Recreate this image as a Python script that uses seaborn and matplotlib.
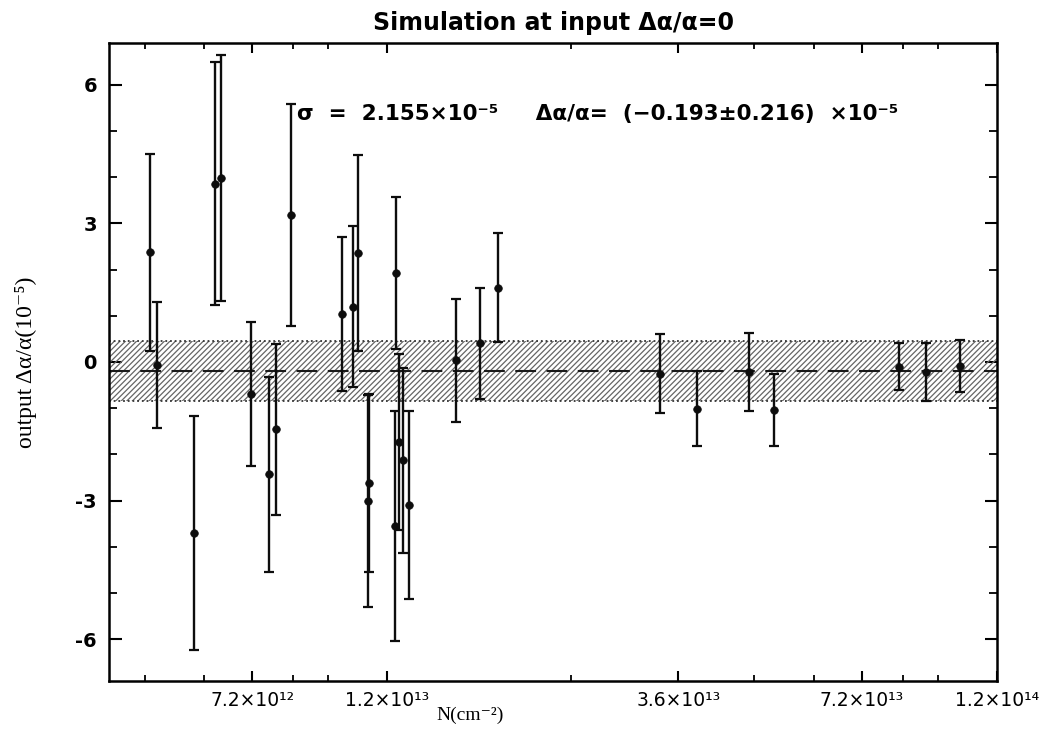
import numpy as np
import pandas as pd
import matplotlib
matplotlib.use("Agg")
import matplotlib.pyplot as plt
from matplotlib.ticker import FixedLocator, FixedFormatter, NullFormatter
import seaborn as sns

# ---------------- data ----------------
column_density = [4.89e12, 5.02e12, 5.79e12, 6.26e12, 6.41e12, 7.16e12, 7.67e12, 7.88e12,
                  8.33e12, 1.011e13, 1.055e13, 1.074e13, 1.117e13, 1.120e13, 1.236e13,
                  1.239e13, 1.256e13, 1.273e13, 1.303e13, 1.553e13, 1.70e13, 1.82e13,
                  3.36e13, 3.86e13, 4.71e13, 5.16e13, 8.28e13, 9.17e13, 1.045e14]
output_da = [2.37, -0.07, -3.70, 3.86, 3.97, -0.69, -2.43, -1.46,
             3.18, 1.04, 1.20, 2.35, -3.01, -2.62, -3.55,
             1.92, -1.73, -2.13, -3.09, 0.04, 0.40, 1.61,
             -0.25, -1.01, -0.22, -1.03, -0.10, -0.22, -0.08]
output_err = [2.13, 1.36, 2.53, 2.62, 2.66, 1.55, 2.11, 1.84,
              2.40, 1.67, 1.74, 2.12, 2.30, 1.92, 2.48,
              1.64, 1.91, 2.01, 2.04, 1.33, 1.19, 1.17,
              0.85, 0.81, 0.84, 0.78, 0.51, 0.62, 0.56]

mean_value = -0.193
band_low, band_high = -0.84, 0.455

x_major_ticks = [7.2e12, 1.2e13, 3.6e13, 7.2e13, 1.2e14]
x_major_labels = ["7.2×10¹²", "1.2×10¹³", "3.6×10¹³", "7.2×10¹³", "1.2×10¹⁴"]
x_minor_ticks = [4.8e12, 6.0e12, 8.4e12, 9.6e12, 2.4e13, 4.8e13, 6.0e13, 8.4e13, 9.6e13]
y_major_ticks = [-6, -3, 0, 3, 6]
y_major_labels = ["-6", "-3", "0", "3", "6"]
y_minor_ticks = [-5, -4, -2, -1, 1, 2, 4, 5]

title_text = "Simulation at input Δα/α=0"
annot_text = "σ  =  2.155×10⁻⁵     Δα/α=  (−0.193±0.216)  ×10⁻⁵"
xlabel_text = "N(cm⁻²)"
ylabel_text = "output Δα/α(10⁻⁵)"

df = pd.DataFrame({"N": column_density, "da": output_da, "err": output_err})

# ---------------- style ----------------
sns.set_theme(style="ticks")
plt.rcParams["font.family"] = ["DejaVu Sans"]
plt.rcParams["hatch.linewidth"] = 0.9
plt.rcParams["axes.linewidth"] = 1.8
for key in ("text.color", "axes.labelcolor", "xtick.color", "ytick.color", "axes.edgecolor"):
    plt.rcParams[key] = "black"

fig = plt.figure(figsize=(10.6, 7.35), dpi=100)
ax = fig.add_axes([0.1032, 0.0735, 0.8374, 0.868])
ax.set_xscale("log")
ax.set_xlim(4.2e12, 1.2e14)
ax.set_ylim(-6.9, 6.9)

# shaded band
ax.axhspan(band_low, band_high, facecolor="none", edgecolor="0.4",
           hatch="//////", linewidth=0, zorder=1)
for yb in (band_low, band_high):
    ax.axhline(yb, color="0.2", lw=1.3, ls=(0, (1, 1.6)), zorder=2)
ax.axhline(mean_value, color="0.1", lw=1.5, ls=(0, (10, 5)), zorder=2)

# error bars and points
ax.errorbar(df["N"], df["da"], yerr=df["err"], fmt="none", ecolor="0.05",
            elinewidth=1.7, capsize=3.8, capthick=1.6, zorder=3)
sns.scatterplot(data=df, x="N", y="da", marker="o", s=30, color="0.05",
                edgecolor="0.05", linewidth=0.5, ax=ax, zorder=4, legend=False)

# ticks
ax.xaxis.set_major_locator(FixedLocator(x_major_ticks))
ax.xaxis.set_major_formatter(FixedFormatter(x_major_labels))
ax.xaxis.set_minor_locator(FixedLocator(x_minor_ticks))
ax.xaxis.set_minor_formatter(NullFormatter())
ax.yaxis.set_major_locator(FixedLocator(y_major_ticks))
ax.yaxis.set_major_formatter(FixedFormatter(y_major_labels))
ax.yaxis.set_minor_locator(FixedLocator(y_minor_ticks))
ax.tick_params(which="both", direction="in", top=True, right=True, color="black")
ax.tick_params(axis="x", which="major", length=7.5, width=1.5, pad=7, labelsize=13.5)
ax.tick_params(axis="x", which="minor", length=4, width=1.3)
ax.tick_params(axis="y", which="major", length=9, width=1.5, pad=9, labelsize=14)
ax.tick_params(axis="y", which="minor", length=6, width=1.3)
for lab in ax.get_yticklabels():
    lab.set_fontweight("bold")
for sp in ax.spines.values():
    sp.set_color("black")
    sp.set_linewidth(1.8)

ax.set_title(title_text, fontsize=17, fontweight="bold", pad=9)
ax.text(0.211, 0.888, annot_text, transform=ax.transAxes, fontsize=15.5,
        fontweight="bold", ha="left", va="center")
ax.set_xlabel(xlabel_text, fontsize=14, family=["Liberation Serif", "DejaVu Serif"])
ax.xaxis.set_label_coords(0.406, -0.04)
ax.set_ylabel(ylabel_text, fontsize=17, family=["Liberation Serif", "DejaVu Serif"])
ax.yaxis.set_label_coords(-0.082, 0.5)

fig.savefig("out.png", dpi=100, facecolor="white")
